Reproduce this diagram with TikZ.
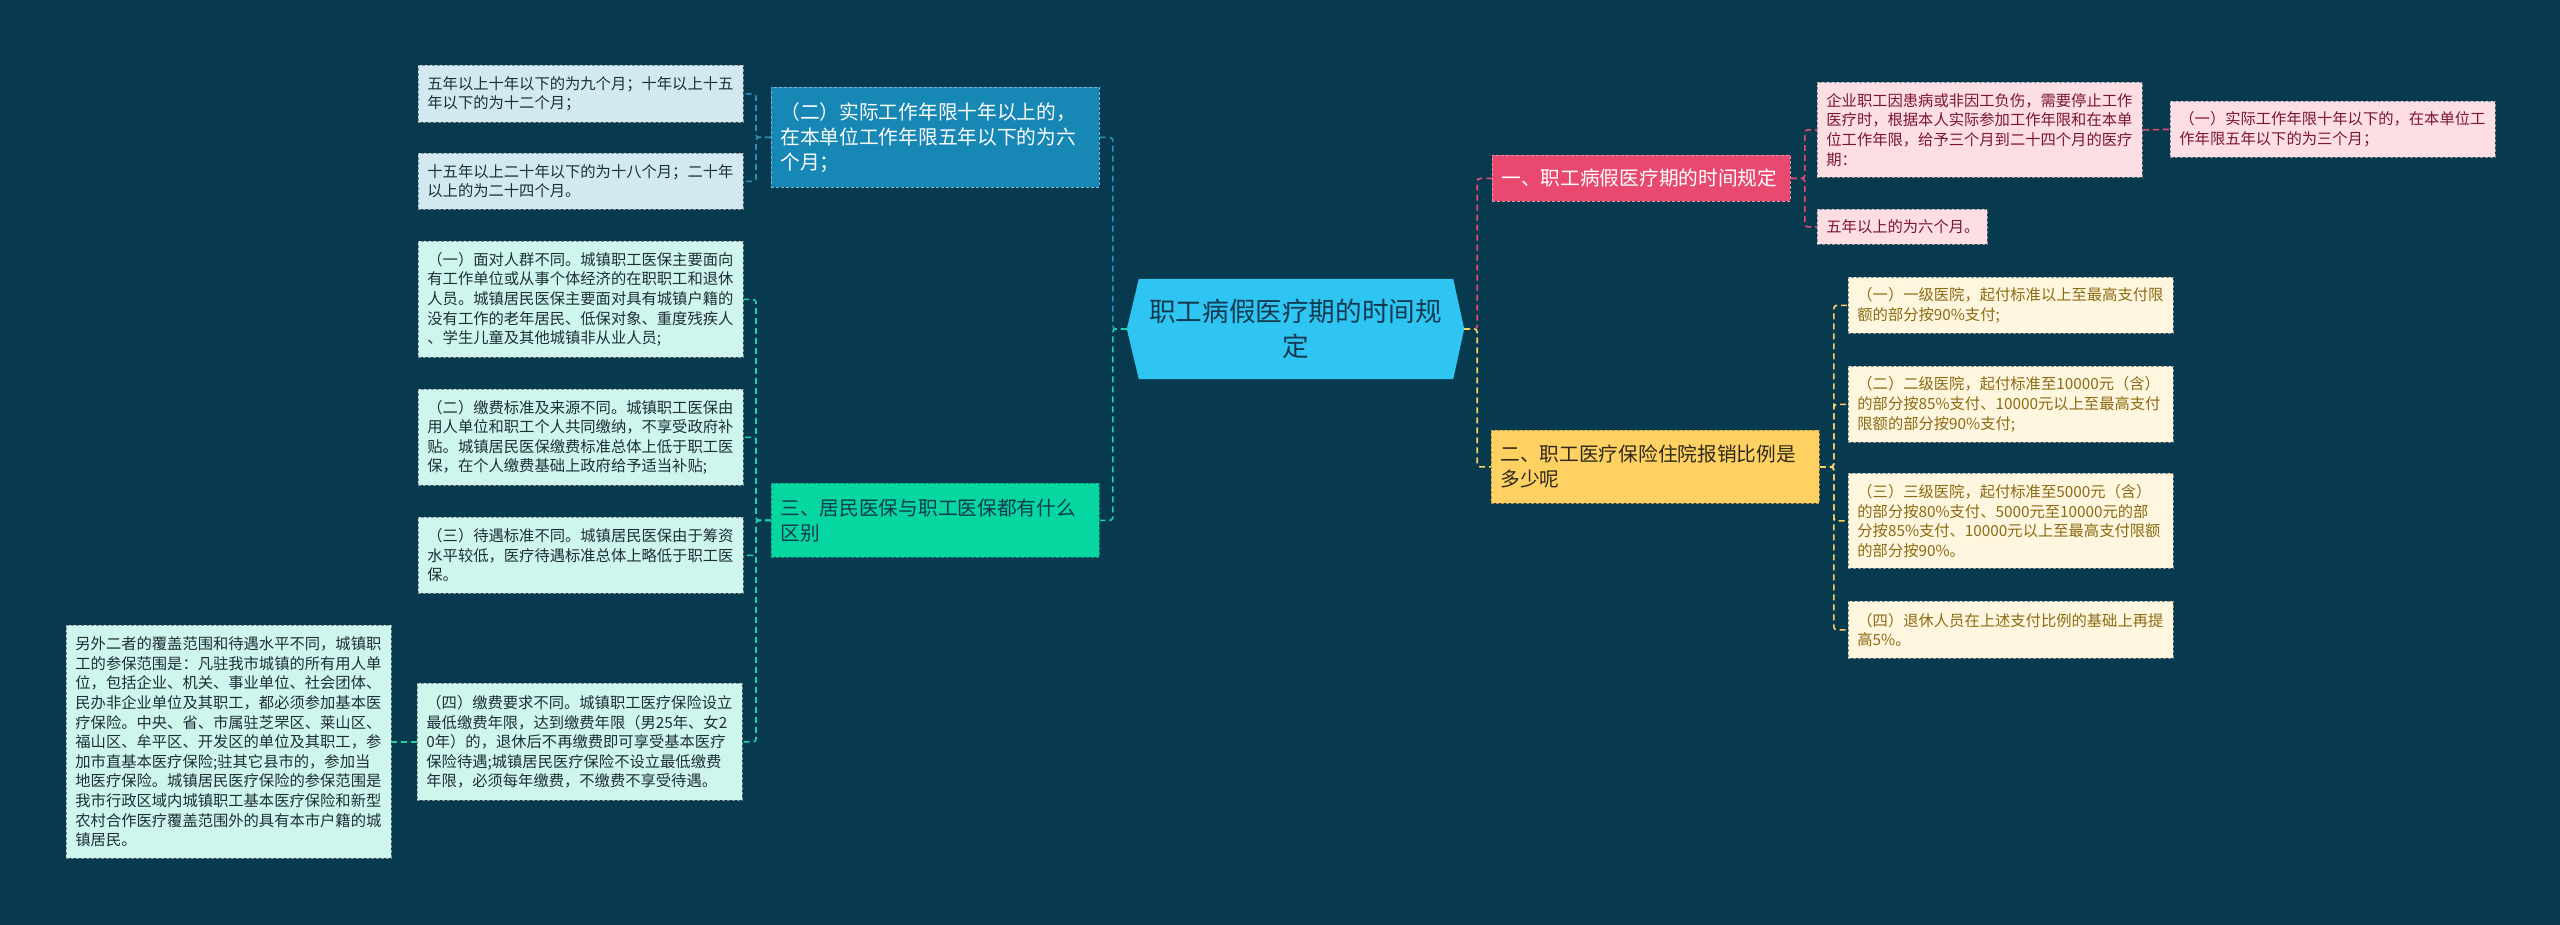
\documentclass[tikz,border=0pt]{standalone}
\usepackage{fontspec}
\newfontfamily\cjk{Noto Sans CJK SC}
\usetikzlibrary{backgrounds}
\definecolor{bgc}{HTML}{073A4F}
\definecolor{rootfill}{HTML}{2EC5F2}
\definecolor{roottext}{HTML}{123A50}
\definecolor{pinkmain}{HTML}{E9496F}
\definecolor{pinkkid}{HTML}{FCDEE4}
\definecolor{pinktext}{HTML}{7B1532}
\definecolor{yelmain}{HTML}{FFD162}
\definecolor{yeltextmain}{HTML}{2E2A1A}
\definecolor{yelkid}{HTML}{FEF6DE}
\definecolor{yeltext}{HTML}{8D6A13}
\definecolor{bluemain}{HTML}{1788B5}
\definecolor{bluekid}{HTML}{D3E9F1}
\definecolor{greenmain}{HTML}{06D6A0}
\definecolor{mintkid}{HTML}{CFF6EC}
\definecolor{kidtext}{HTML}{1E2E38}
\definecolor{kidborder}{HTML}{8A8F92}
\definecolor{blueline}{HTML}{2F8FBA}
\definecolor{greenline}{HTML}{1DD3A8}
\begin{document}
\begin{tikzpicture}[x=1pt,y=-1pt,
  nbox/.style={anchor=north west, align=left, inner ysep=0pt, inner xsep=9pt, dash pattern=on 3pt off 2pt, line width=0.8pt},
  kid/.style={nbox, text width=307pt, font=\cjk\fontsize{15.3pt}{19.6pt}\selectfont, draw=kidborder},
  bkid/.style={kid, fill=bluekid, text=kidtext},
  gkid/.style={kid, fill=mintkid, text=kidtext},
  pkid/.style={kid, fill=pinkkid, text=pinktext},
  ykid/.style={kid, fill=yelkid, text=yeltext},
  lvl/.style={nbox, text width=310pt, font=\cjk\fontsize{19.7pt}{25pt}\selectfont},
  conn/.style={dash pattern=on 6pt off 4pt, line width=1.6pt, rounded corners=3pt}
]
\useasboundingbox (0,0) rectangle (2560,925);

% root
\node[align=center, text width=300pt, minimum width=337pt, minimum height=100pt, inner sep=0pt,
      font=\cjk\fontsize{26.6pt}{35pt}\selectfont, text=roottext] (root) at (1295.5,329) {职工病假医疗期的时间规\\定};
\begin{scope}[on background layer]
\fill[bgc] (0,0) rectangle (2560,925);
\fill[rootfill] ([xshift=12pt]root.north west) -- ([xshift=-11pt]root.north east) -- (root.east)
   -- ([xshift=-11pt]root.south east) -- ([xshift=12pt]root.south west) -- (root.west) -- cycle;
\end{scope}

% level 1
\node[lvl, text width=280pt, fill=pinkmain, draw=pinkmain!60!white, text=white, minimum height=46pt] (pk) at (1492,155) {一、职工病假医疗期的时间规定};
\node[lvl, fill=yelmain, draw=yelmain!70!black, text=yeltextmain, minimum height=73pt] (yl) at (1491,430) {二、职工医疗保险住院报销比例是\\多少呢};
\node[lvl, fill=bluemain, draw=bluemain!60!white, text=white, minimum height=100pt] (bl) at (771,87) {（二）实际工作年限十年以上的，\\在本单位工作年限五年以下的为六\\个月；};
\node[lvl, fill=greenmain, draw=greenmain!70!black, text=roottext, minimum height=74pt] (gr) at (771,483) {三、居民医保与职工医保都有什么\\区别};

% blue children
\node[bkid, minimum height=57pt] (ba) at (418,65) {五年以上十年以下的为九个月；十年以上十五\\年以下的为十二个月；};
\node[bkid, minimum height=56pt] (bb) at (418,153) {十五年以上二十年以下的为十八个月；二十年\\以上的为二十四个月。};

% green children
\node[gkid, minimum height=116pt] (c1) at (418,241) {（一）面对人群不同。城镇职工医保主要面向\\有工作单位或从事个体经济的在职职工和退休\\人员。城镇居民医保主要面对具有城镇户籍的\\没有工作的老年居民、低保对象、重度残疾人\\、学生儿童及其他城镇非从业人员;};
\node[gkid, minimum height=96pt] (c2) at (418,389) {（二）缴费标准及来源不同。城镇职工医保由\\用人单位和职工个人共同缴纳，不享受政府补\\贴。城镇居民医保缴费标准总体上低于职工医\\保，在个人缴费基础上政府给予适当补贴;};
\node[gkid, minimum height=76pt] (c3) at (418,517) {（三）待遇标准不同。城镇居民医保由于筹资\\水平较低，医疗待遇标准总体上略低于职工医\\保。};
\node[gkid, minimum height=117pt] (c4) at (417,683) {（四）缴费要求不同。城镇职工医疗保险设立\\最低缴费年限，达到缴费年限（男25年、女2\\0年）的，退休后不再缴费即可享受基本医疗\\保险待遇;城镇居民医疗保险不设立最低缴费\\年限，必须每年缴费，不缴费不享受待遇。};
\node[gkid, minimum height=233pt] (gg) at (66,625) {另外二者的覆盖范围和待遇水平不同，城镇职\\工的参保范围是：凡驻我市城镇的所有用人单\\位，包括企业、机关、事业单位、社会团体、\\民办非企业单位及其职工，都必须参加基本医\\疗保险。中央、省、市属驻芝罘区、莱山区、\\福山区、牟平区、开发区的单位及其职工，参\\加市直基本医疗保险;驻其它县市的，参加当\\地医疗保险。城镇居民医疗保险的参保范围是\\我市行政区域内城镇职工基本医疗保险和新型\\农村合作医疗覆盖范围外的具有本市户籍的城\\镇居民。};

% pink children
\node[pkid, minimum height=95pt] (p1) at (1817,82) {企业职工因患病或非因工负伤，需要停止工作\\医疗时，根据本人实际参加工作年限和在本单\\位工作年限，给予三个月到二十四个月的医疗\\期：};
\node[pkid, text width=152pt, minimum height=35pt] (p2) at (1817,209) {五年以上的为六个月。};
\node[pkid, minimum height=56pt] (p3) at (2170,101) {（一）实际工作年限十年以下的，在本单位工\\作年限五年以下的为三个月；};

% yellow children
\node[ykid, minimum height=56pt] (y1) at (1848,277) {（一）一级医院，起付标准以上至最高支付限\\额的部分按90\%支付;};
\node[ykid, minimum height=76pt] (y2) at (1848,366) {（二）二级医院，起付标准至10000元（含）\\的部分按85\%支付、10000元以上至最高支付\\限额的部分按90\%支付;};
\node[ykid, minimum height=95pt] (y3) at (1848,473) {（三）三级医院，起付标准至5000元（含）\\的部分按80\%支付、5000元至10000元的部\\分按85\%支付、10000元以上至最高支付限额\\的部分按90\%。};
\node[ykid, minimum height=57pt] (y4) at (1848,601) {（四）退休人员在上述支付比例的基础上再提\\高5\%。};

% connectors
\draw[conn, blueline] (root.west) -- ++(-14,0) |- (bl.east);
\draw[conn, greenline] (root.west) -- ++(-14,0) |- (gr.east);
\draw[conn, pinkmain] (root.east) -- ++(13,0) |- (pk.west);
\draw[conn, yelmain] (root.east) -- ++(13,0) |- (yl.west);

\draw[conn, blueline] (bl.west) -- ++(-15,0) |- (ba.east);
\draw[conn, blueline] (bl.west) -- ++(-15,0) |- (bb.east);

\draw[conn, greenline] (gr.west) -- ++(-15,0) |- (c1.east);
\draw[conn, greenline] (gr.west) -- ++(-15,0) |- (c2.east);
\draw[conn, greenline] (gr.west) -- ++(-15,0) |- (c3.east);
\draw[conn, greenline] (gr.west) -- ++(-15,0) |- (c4.east);
\draw[conn, greenline] (c4.west) -- (gg.east);

\draw[conn, pinkmain] (pk.east) -- ++(14,0) |- (p1.west);
\draw[conn, pinkmain] (pk.east) -- ++(14,0) |- (p2.west);
\draw[conn, pinkmain] (p1.east) -- (p3.west);

\draw[conn, yelmain] (yl.east) -- ++(14,0) |- (y1.west);
\draw[conn, yelmain] (yl.east) -- ++(14,0) |- (y2.west);
\draw[conn, yelmain] (yl.east) -- ++(14,0) |- (y3.west);
\draw[conn, yelmain] (yl.east) -- ++(14,0) |- (y4.west);
\end{tikzpicture}
\end{document}
